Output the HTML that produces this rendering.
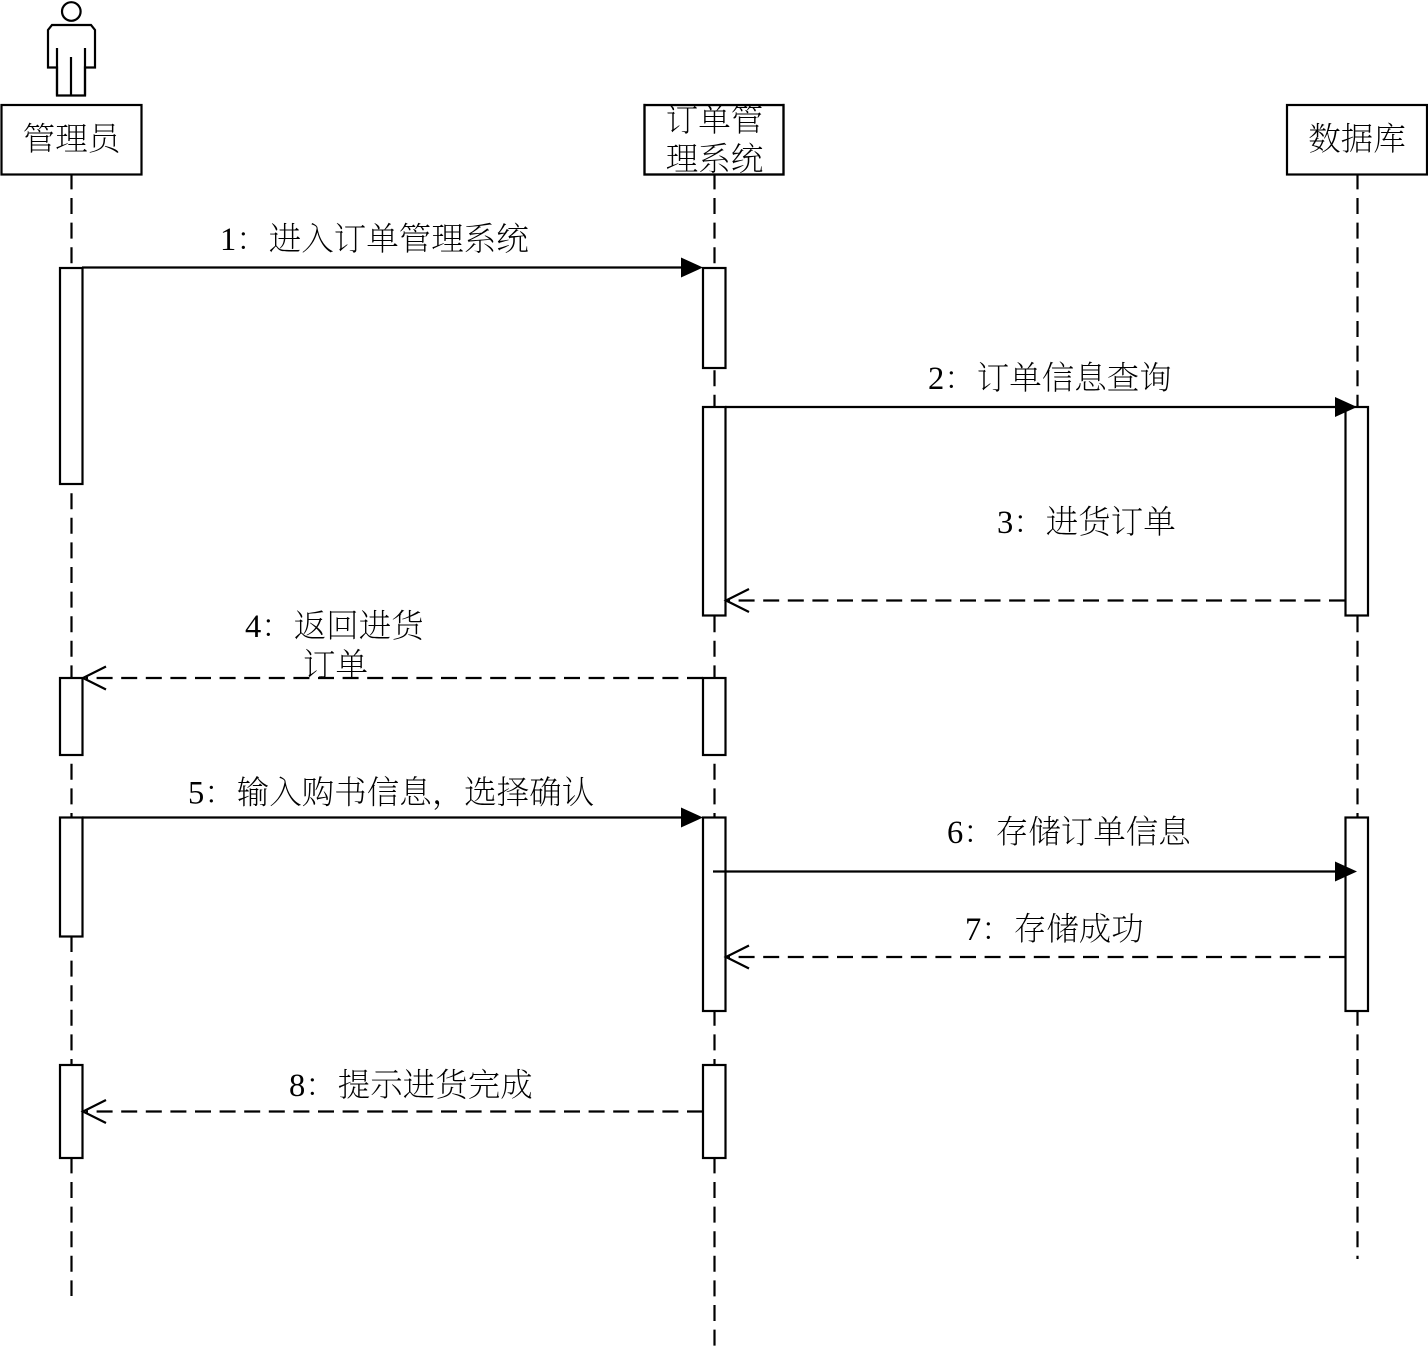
<!DOCTYPE html>
<html><head><meta charset="utf-8"><style>
html,body{margin:0;padding:0;background:#fff}
svg{display:block}
text{font-family:"Liberation Serif","Noto Serif CJK SC",serif;font-size:32.5px;font-weight:200;fill:#000;text-anchor:middle}
.t{text-anchor:start}
.l{fill:none;stroke:#000;stroke-width:2.2}
.d{fill:none;stroke:#000;stroke-width:2.2;stroke-dasharray:16 8.6}
.b{fill:#fff;stroke:#000;stroke-width:2.2}
</style></head><body>
<svg width="1428" height="1350" viewBox="0 0 1428 1350" xmlns="http://www.w3.org/2000/svg">
<!-- lifelines -->
<path class="d" d="M71.500 173.400V1296"/>
<path class="d" d="M714.500 173.400V1346"/>
<path class="d" d="M1357.500 173.400V1259"/>
<!-- actor -->
<circle class="l" cx="71.300" cy="11.500" r="9.300"/>
<path class="l" d="M52 25H91L95 30V67.500H85V95.500H57V67.500H48V30Z"/>
<path class="l" d="M57 48V95.500M85 48V95.500M71 57V95.500"/>
<!-- headers -->
<rect class="b" x="1.500" y="105" width="140" height="69.500"/>
<rect class="b" x="644.500" y="105" width="139" height="69.500"/>
<rect class="b" x="1287" y="105" width="140" height="69.500"/>
<text x="71.500" y="150">管理员</text>
<text x="714.500" y="131">订单管</text>
<text x="714.500" y="170">理系统</text>
<text x="1357" y="150">数据库</text>
<rect x="645.500" y="95" width="137" height="9" fill="#fff"/>
<rect class="l" x="644.500" y="105" width="139" height="69.500"/>
<!-- activations -->
<rect class="b" x="60" y="268" width="22.500" height="216"/>
<rect class="b" x="60" y="678" width="22.500" height="77"/>
<rect class="b" x="60" y="817.500" width="22.500" height="119"/>
<rect class="b" x="60" y="1065" width="22.500" height="93"/>
<rect class="b" x="703" y="268" width="22.500" height="100"/>
<rect class="b" x="703" y="407" width="22.500" height="208.500"/>
<rect class="b" x="703" y="678" width="22.500" height="77"/>
<rect class="b" x="703" y="817.500" width="22.500" height="193.500"/>
<rect class="b" x="703" y="1065" width="22.500" height="93"/>
<rect class="b" x="1345.500" y="407" width="22.500" height="208.500"/>
<rect class="b" x="1345.500" y="817.500" width="22.500" height="193.500"/>
<!-- messages -->
<path class="l" d="M82 267.500H685"/><path d="M681 257.500L703 267.500L681 277.500Z"/>
<path class="l" d="M725 407H1340"/><path d="M1335 397L1357 407L1335 417Z"/>
<path class="d" d="M1345 600.500H728"/><path class="l" d="M749 589L726 600.500L749 612"/>
<path class="d" d="M703 678H86"/><path class="l" d="M106 666.500L83 678L106 689.500"/>
<path class="l" d="M82 817.500H685"/><path d="M681 807.500L703 817.500L681 827.500Z"/>
<path class="l" d="M713 871.500H1340"/><path d="M1335 861.500L1357 871.500L1335 881.500Z"/>
<path class="d" d="M1345 957H728"/><path class="l" d="M749 945.500L726 957L749 968.500"/>
<path class="d" d="M703 1111.500H86"/><path class="l" d="M106 1100L83 1111.500L106 1123"/>
<!-- labels -->
<text class="t" x="220" y="250">1：进入订单管理系统</text>
<text class="t" x="928" y="389">2：订单信息查询</text>
<text class="t" x="997" y="533">3：进货订单</text>
<text class="t" x="245" y="637">4：返回进货</text>
<text class="t" x="303" y="676">订单</text>
<text class="t" x="188" y="803.500">5：输入购书信息，选择确认</text>
<text class="t" x="947" y="843">6：存储订单信息</text>
<text class="t" x="965" y="940">7：存储成功</text>
<text class="t" x="289" y="1096">8：提示进货完成</text>
</svg>
</body></html>
